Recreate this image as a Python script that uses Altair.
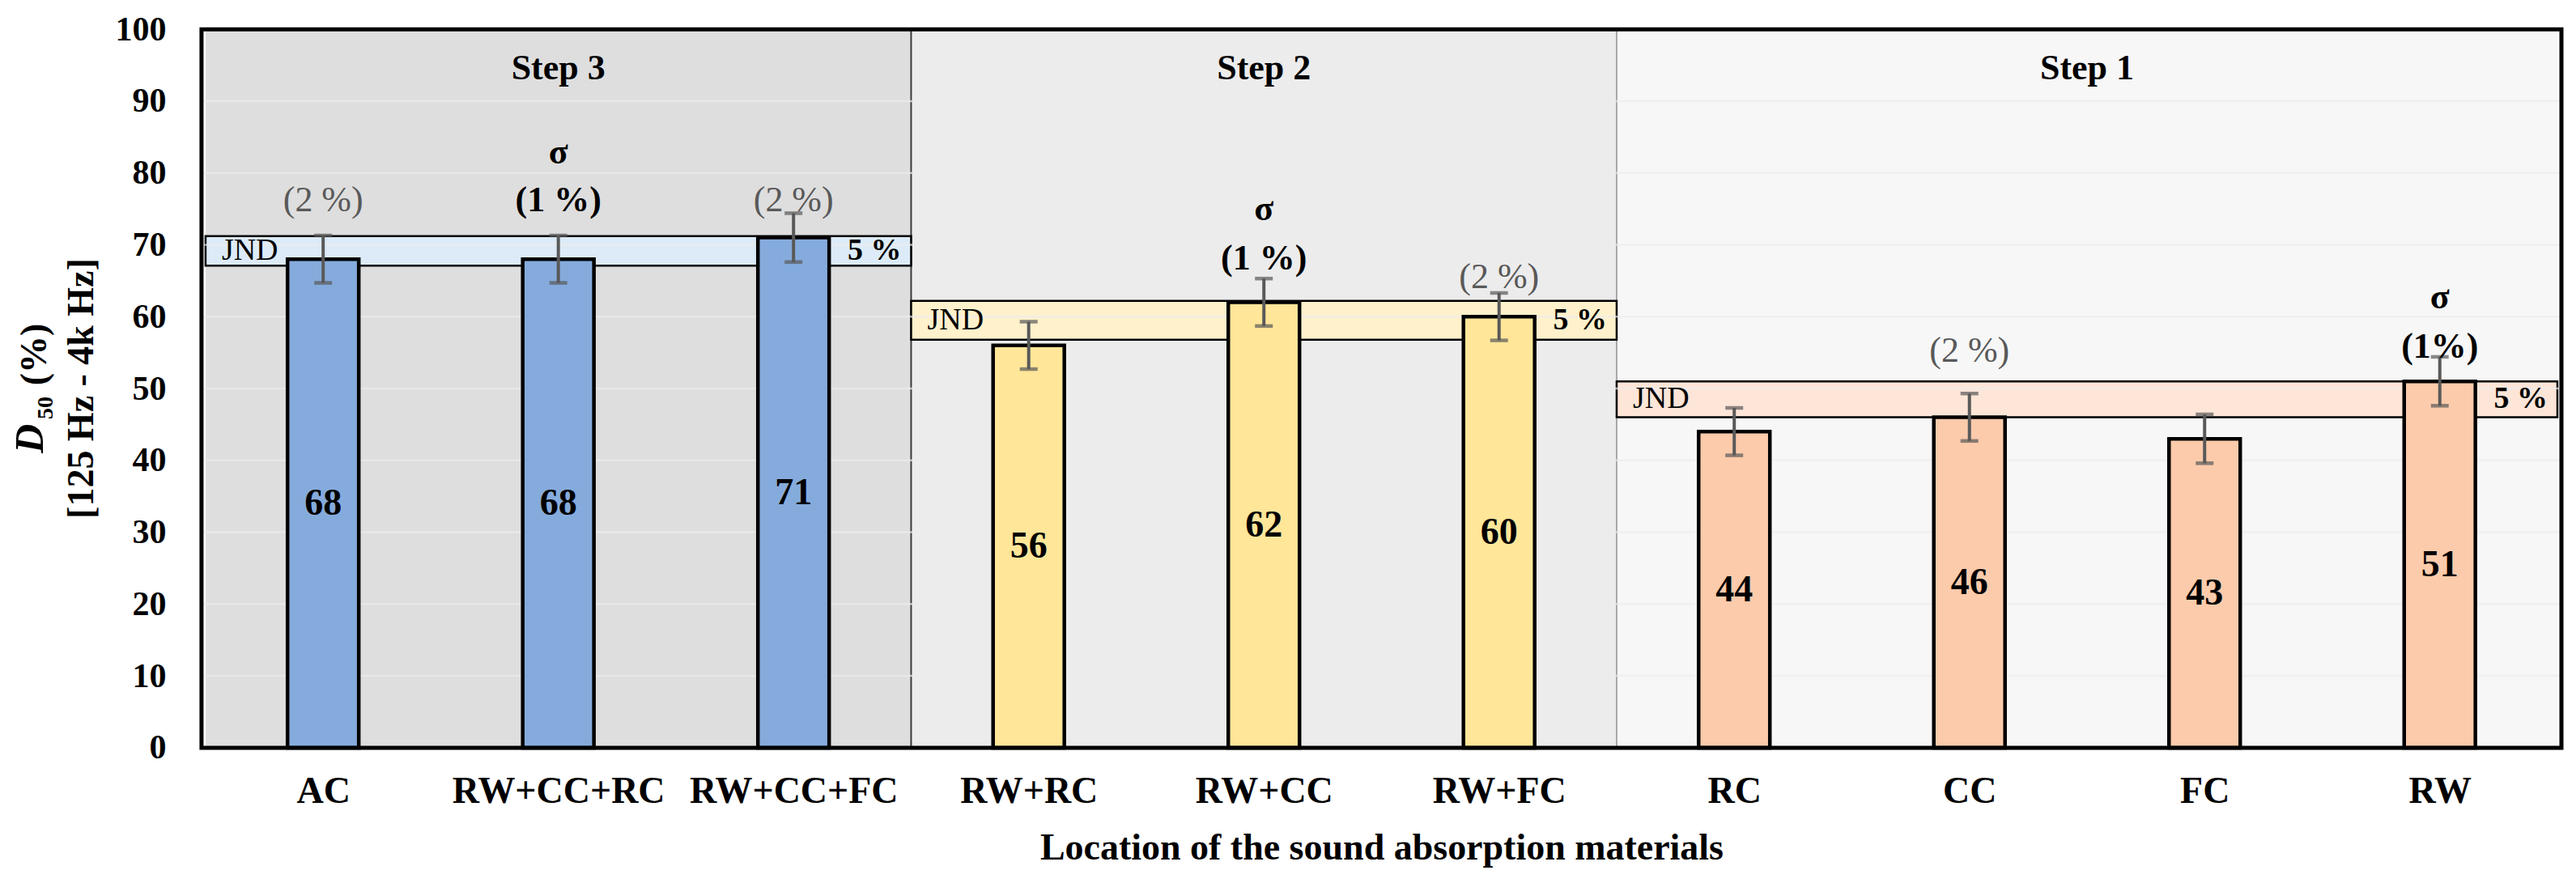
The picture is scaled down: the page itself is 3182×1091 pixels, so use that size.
import json
import altair as alt
import pandas as pd

# ---------------- data ----------------
categories = ["AC", "RW+CC+RC", "RW+CC+FC", "RW+RC", "RW+CC", "RW+FC", "RC", "CC", "FC", "RW"]
cat_step = ["Step 3", "Step 3", "Step 3", "Step 2", "Step 2", "Step 2", "Step 1", "Step 1", "Step 1", "Step 1"]
d50 = [68, 68, 71, 56, 62, 60, 44, 46, 43, 51]
err = [3.3, 3.3, 3.4, 3.3, 3.3, 3.3, 3.3, 3.3, 3.4, 3.4]
notes = ["(2 %)", "(1 %)", "(2 %)", "", "(1 %)", "(2 %)", "", "(2 %)", "", "(1%)"]
note_strong = [False, True, False, False, True, False, False, False, False, True]
note_y = [76.1, 76.1, 76.1, None, 68.0, 65.4, None, 55.2, None, 55.8]
sigma_y = [None, 82.8, None, None, 74.9, None, None, None, None, 62.6]

step_names = ["Step 3", "Step 2", "Step 1"]
step_first = [0, 3, 6]
step_last = [2, 5, 9]
jnd_low = [67.1, 56.8, 46.0]
jnd_high = [71.2, 62.2, 51.0]
step_label_y = [94.5, 94.5, 94.5]

y_ticks = list(range(0, 101, 10))
grid_y = list(range(10, 100, 10))

# ---------------- styles ----------------
FONT = "Liberation Serif"
W, H = 2916, 888
bar_colors = ["#85abdc", "#ffe699", "#fccbab"]
band_colors = ["#dcebf7", "#fff1cb", "#fde5d7"]
bg_colors = ["#dedede", "#ececec", "#f7f7f7"]

n = len(categories)
df = pd.DataFrame({
    "idx": list(range(n)),
    "cat": categories,
    "step": cat_step,
    "d50": d50,
    "lo": [v - e for v, e in zip(d50, err)],
    "hi": [v + e for v, e in zip(d50, err)],
    "half": [v / 2 for v in d50],
    "label": [str(v) for v in d50],
    "note": notes,
    "strong": note_strong,
    "note_y": note_y,
    "sigma_y": sigma_y,
})

steps_df = pd.DataFrame({
    "stepname": step_names,
    "x0": [f - 0.5 for f in step_first],
    "x1": [l + 0.5 for l in step_last],
    "xc": [(f + l) / 2 for f, l in zip(step_first, step_last)],
    "ybot": [0] * 3,
    "ytop": [100] * 3,
    "lo": jnd_low,
    "hi": jnd_high,
    "mid": [(a + b) / 2 for a, b in zip(jnd_low, jnd_high)],
    "ty": step_label_y,
})

xscale = alt.Scale(domain=[-0.5, n - 0.5], nice=False, zero=False)
yscale = alt.Scale(domain=[0, 100], nice=False, zero=True)

x_axis = alt.Axis(
    values=list(range(n)),
    labelExpr=json.dumps(categories) + "[datum.value]",
    labelFont=FONT, labelFontSize=46, labelFontWeight="bold", labelColor="black",
    labelPadding=32, labelOverlap=False, labelFlush=False, labelBound=False, labelLimit=0,
    ticks=False, tickSize=0, domain=False, grid=False,
    title="Location of the sound absorption materials",
    titleFont=FONT, titleFontSize=46, titleFontWeight="bold", titleColor="black",
    titlePadding=25, titleLimit=0,
)
y_axis = alt.Axis(
    values=y_ticks, format="d",
    labelFont=FONT, labelFontSize=42, labelFontWeight="bold", labelColor="black",
    labelPadding=44, ticks=False, tickSize=0, domain=False, grid=False, title=None,
)


def X(field):
    return alt.X(field, type="quantitative", scale=xscale, axis=x_axis)


def Y(field):
    return alt.Y(field, type="quantitative", scale=yscale, axis=y_axis, stack=None)


base_steps = alt.Chart(steps_df)
base = alt.Chart(df)

bg = base_steps.mark_rect().encode(
    x=X("x0"), x2="x1:Q", y=Y("ybot"), y2="ytop:Q",
    fill=alt.Fill("stepname:N", scale=alt.Scale(domain=step_names, range=bg_colors), legend=None),
)

sep_dark = base_steps.transform_filter(alt.datum.stepname == "Step 2").mark_rule(
    color="#3a3a3a", strokeWidth=2).encode(x=X("x0"), y=Y("ybot"), y2="ytop:Q")
sep_light = base_steps.transform_filter(alt.datum.stepname == "Step 1").mark_rule(
    color="#a8a8a8", strokeWidth=2).encode(x=X("x0"), y=Y("ybot"), y2="ytop:Q")

band = base_steps.mark_rect(stroke="black", strokeWidth=2.5).encode(
    x=X("x0"), x2="x1:Q", y=Y("lo"), y2="hi:Q",
    fill=alt.Fill("stepname:N", scale=alt.Scale(domain=step_names, range=band_colors), legend=None),
)

grid = alt.Chart(pd.DataFrame({"gy": grid_y})).mark_rule(
    color="#ececec", opacity=0.7, strokeWidth=2.5).encode(
    y=Y("gy"), x=alt.value(0), x2=alt.value(W))

bars = base.mark_bar(size=88, stroke="black", strokeWidth=4.5, orient="vertical").encode(
    x=X("idx"), y=Y("d50"),
    fill=alt.Fill("step:N", scale=alt.Scale(domain=step_names, range=bar_colors), legend=None),
)

ebar = base.mark_rule(color="#595959", strokeWidth=4).encode(x=X("idx"), y=Y("lo"), y2="hi:Q")
cap_lo = base.mark_tick(color="#595959", orient="horizontal", size=22, thickness=4.5).encode(
    x=X("idx"), y=Y("lo"))
cap_hi = base.mark_tick(color="#595959", orient="horizontal", size=22, thickness=4.5).encode(
    x=X("idx"), y=Y("hi"))

vlabels = base.mark_text(font=FONT, fontSize=46, fontWeight="bold", color="black",
                         baseline="middle").encode(x=X("idx"), y=Y("half"), text="label:N")

notes_weak = base.transform_filter("datum.note != '' && !datum.strong").mark_text(
    font=FONT, fontSize=44, color="#595959", baseline="middle").encode(
    x=X("idx"), y=Y("note_y"), text="note:N")
notes_strong = base.transform_filter("datum.note != '' && datum.strong").mark_text(
    font=FONT, fontSize=44, fontWeight="bold", color="black", baseline="middle").encode(
    x=X("idx"), y=Y("note_y"), text="note:N")
sigmas = base.transform_filter("datum.sigma_y != null").mark_text(
    font=FONT, fontSize=44, fontWeight="bold", color="black", baseline="middle").encode(
    x=X("idx"), y=Y("sigma_y"), text=alt.value("σ"))

step_titles = base_steps.mark_text(font=FONT, fontSize=44, fontWeight="bold", color="black",
                                   baseline="middle").encode(
    x=X("xc"), y=Y("ty"), text="stepname:N")

jnd_text = base_steps.mark_text(font=FONT, fontSize=38, color="black", align="left",
                                baseline="middle", dx=20).encode(
    x=X("x0"), y=Y("mid"), text=alt.value("JND"))
pct_text = base_steps.mark_text(font=FONT, fontSize=38, fontWeight="bold", color="black",
                                align="right", baseline="middle", dx=-12).encode(
    x=X("x1"), y=Y("mid"), text=alt.value("5 %"))

one = alt.Data(values=[{"k": 1}])
frame = alt.Chart(one).mark_rect(fillOpacity=0, stroke="black", strokeWidth=5).encode(
    x=alt.value(0), x2=alt.value(W), y=alt.value(0), y2=alt.value(H))

yt_D = alt.Chart(one).mark_text(font=FONT, fontSize=50, fontWeight="bold", fontStyle="italic",
                                angle=270, baseline="middle", align="center", color="black").encode(
    x=alt.value(-211), y=alt.value(506), text=alt.value("D"))
yt_sub = alt.Chart(one).mark_text(font=FONT, fontSize=28, fontWeight="bold",
                                  angle=270, baseline="middle", align="center", color="black").encode(
    x=alt.value(-192), y=alt.value(468), text=alt.value("50"))
yt_pct = alt.Chart(one).mark_text(font=FONT, fontSize=46, fontWeight="bold",
                                  angle=270, baseline="middle", align="center", color="black").encode(
    x=alt.value(-206), y=alt.value(402), text=alt.value("(%)"))
yt_l2 = alt.Chart(one).mark_text(font=FONT, fontSize=46, fontWeight="bold",
                                 angle=270, baseline="middle", align="center", color="black").encode(
    x=alt.value(-148), y=alt.value(444), text=alt.value("[125 Hz - 4k Hz]"))

chart = alt.layer(
    bg, sep_dark, sep_light, band, grid, bars, ebar, cap_lo, cap_hi, vlabels,
    notes_weak, notes_strong, sigmas, step_titles, jnd_text, pct_text, frame,
    yt_D, yt_sub, yt_pct, yt_l2,
).resolve_scale(fill="independent").properties(
    width=W, height=H,
    autosize=alt.AutoSizeParams(type="none"),
    padding={"left": 241, "top": 28, "right": 10, "bottom": 160},
).configure_view(stroke=None).configure(background="white")

chart.save("out.html", embed_options={"renderer": "svg", "actions": False})
